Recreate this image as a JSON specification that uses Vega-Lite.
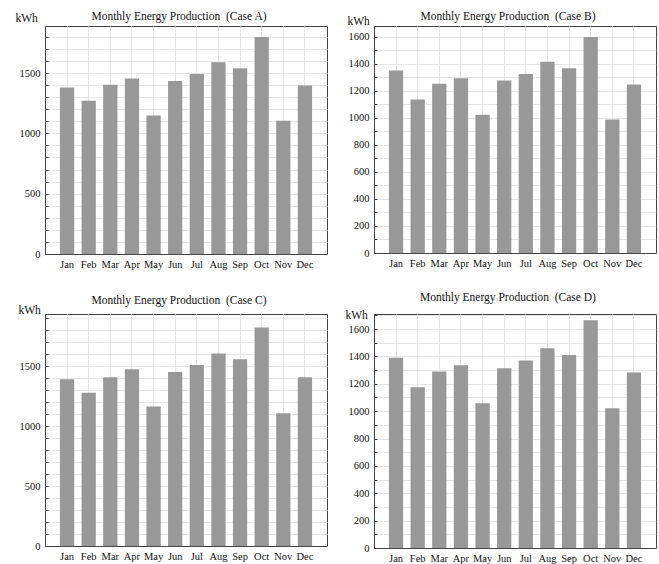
{
  "$schema": "https://vega.github.io/schema/vega-lite/v6.json",
  "background": "white",
  "padding": {"left": 14, "top": 10, "right": 2, "bottom": 2},
  "data": {"values": [
    {"case": "A", "month": "Jan", "kWh": 1380}, {"case": "A", "month": "Feb", "kWh": 1270}, {"case": "A", "month": "Mar", "kWh": 1402},
    {"case": "A", "month": "Apr", "kWh": 1455}, {"case": "A", "month": "May", "kWh": 1149}, {"case": "A", "month": "Jun", "kWh": 1435},
    {"case": "A", "month": "Jul", "kWh": 1493}, {"case": "A", "month": "Aug", "kWh": 1589}, {"case": "A", "month": "Sep", "kWh": 1540},
    {"case": "A", "month": "Oct", "kWh": 1798}, {"case": "A", "month": "Nov", "kWh": 1104}, {"case": "A", "month": "Dec", "kWh": 1397},
    {"case": "B", "month": "Jan", "kWh": 1351}, {"case": "B", "month": "Feb", "kWh": 1136}, {"case": "B", "month": "Mar", "kWh": 1252},
    {"case": "B", "month": "Apr", "kWh": 1294}, {"case": "B", "month": "May", "kWh": 1023}, {"case": "B", "month": "Jun", "kWh": 1277},
    {"case": "B", "month": "Jul", "kWh": 1324}, {"case": "B", "month": "Aug", "kWh": 1415}, {"case": "B", "month": "Sep", "kWh": 1368},
    {"case": "B", "month": "Oct", "kWh": 1598}, {"case": "B", "month": "Nov", "kWh": 988}, {"case": "B", "month": "Dec", "kWh": 1247},
    {"case": "C", "month": "Jan", "kWh": 1390}, {"case": "C", "month": "Feb", "kWh": 1279}, {"case": "C", "month": "Mar", "kWh": 1407},
    {"case": "C", "month": "Apr", "kWh": 1474}, {"case": "C", "month": "May", "kWh": 1164}, {"case": "C", "month": "Jun", "kWh": 1451},
    {"case": "C", "month": "Jul", "kWh": 1510}, {"case": "C", "month": "Aug", "kWh": 1605}, {"case": "C", "month": "Sep", "kWh": 1558},
    {"case": "C", "month": "Oct", "kWh": 1823}, {"case": "C", "month": "Nov", "kWh": 1108}, {"case": "C", "month": "Dec", "kWh": 1407},
    {"case": "D", "month": "Jan", "kWh": 1390}, {"case": "D", "month": "Feb", "kWh": 1175}, {"case": "D", "month": "Mar", "kWh": 1289},
    {"case": "D", "month": "Apr", "kWh": 1336}, {"case": "D", "month": "May", "kWh": 1058}, {"case": "D", "month": "Jun", "kWh": 1314},
    {"case": "D", "month": "Jul", "kWh": 1370}, {"case": "D", "month": "Aug", "kWh": 1460}, {"case": "D", "month": "Sep", "kWh": 1411},
    {"case": "D", "month": "Oct", "kWh": 1665}, {"case": "D", "month": "Nov", "kWh": 1021}, {"case": "D", "month": "Dec", "kWh": 1282}
  ]},
  "columns": 2,
  "spacing": {"column": 47, "row": 60},
  "bounds": "flush",
  "config": {
    "font": "Liberation Serif",
    "view": {"stroke": "#444444", "strokeWidth": 1},
    "title": {"font": "Liberation Serif", "fontSize": 11.5, "fontWeight": "normal", "color": "#111111", "dx": -7},
    "axis": {
      "labelFont": "Liberation Serif", "labelFontSize": 10.5, "labelColor": "#111111",
      "titleFont": "Liberation Serif", "titleFontSize": 11.5, "titleFontWeight": "normal", "titleColor": "#111111",
      "domainColor": "#444444", "tickColor": "#444444", "gridColor": "#e6e6e6", "gridWidth": 1
    },
    "bar": {"color": "#989898"}
  },
  "concat": [
    {
      "title": {"text": "Monthly Energy Production \u00a0(Case A)", "offset": -10.5},
      "width": 282, "height": 228,
      "transform": [{"filter": "datum.case == 'A'"}],
      "mark": "bar",
      "encoding": {
        "x": {"field": "month", "type": "ordinal", "sort": ["Jan","Feb","Mar","Apr","May","Jun","Jul","Aug","Sep","Oct","Nov","Dec"],
              "scale": {"paddingInner": 0.34, "paddingOuter": 0.69},
              "axis": {"title": null, "labelAngle": 0, "grid": true, "tickSize": -3, "labelPadding": 8}},
        "y": {"field": "kWh", "type": "quantitative", "scale": {"domain": [0, 1890], "nice": false},
              "axis": {"title": "kWh", "titleAngle": 0, "titleAlign": "left", "titleBaseline": "alphabetic", "titleX": -30, "titleY": -5,
                       "values": [0,100,200,300,400,500,600,700,800,900,1000,1100,1200,1300,1400,1500,1600,1700,1800],
                       "labelExpr": "datum.value % 500 == 0 ? datum.label : ''", "format": "d", "tickSize": -3, "labelPadding": 8}}
      }
    },
    {
      "title": {"text": "Monthly Energy Production \u00a0(Case B)", "offset": -7},
      "width": 282, "height": 227,
      "transform": [{"filter": "datum.case == 'B'"}],
      "mark": "bar",
      "encoding": {
        "x": {"field": "month", "type": "ordinal", "sort": ["Jan","Feb","Mar","Apr","May","Jun","Jul","Aug","Sep","Oct","Nov","Dec"],
              "scale": {"paddingInner": 0.34, "paddingOuter": 0.69},
              "axis": {"title": null, "labelAngle": 0, "grid": true, "tickSize": -3, "labelPadding": 8}},
        "y": {"field": "kWh", "type": "quantitative", "scale": {"domain": [0, 1680], "nice": false},
              "axis": {"title": "kWh", "titleAngle": 0, "titleAlign": "left", "titleBaseline": "alphabetic", "titleX": -27, "titleY": -2,
                       "values": [0,100,200,300,400,500,600,700,800,900,1000,1100,1200,1300,1400,1500,1600],
                       "labelExpr": "datum.value % 200 == 0 ? datum.label : ''", "format": "d", "tickSize": -3, "labelPadding": 8}}
      }
    },
    {
      "title": {"text": "Monthly Energy Production \u00a0(Case C)", "offset": -2},
      "width": 282, "height": 232,
      "transform": [{"filter": "datum.case == 'C'"}],
      "mark": "bar",
      "encoding": {
        "x": {"field": "month", "type": "ordinal", "sort": ["Jan","Feb","Mar","Apr","May","Jun","Jul","Aug","Sep","Oct","Nov","Dec"],
              "scale": {"paddingInner": 0.34, "paddingOuter": 0.69},
              "axis": {"title": null, "labelAngle": 0, "grid": true, "tickSize": -3, "labelPadding": 8}},
        "y": {"field": "kWh", "type": "quantitative", "scale": {"domain": [0, 1935], "nice": false},
              "axis": {"title": "kWh", "titleAngle": 0, "titleAlign": "left", "titleBaseline": "alphabetic", "titleX": -27, "titleY": -1,
                       "values": [0,100,200,300,400,500,600,700,800,900,1000,1100,1200,1300,1400,1500,1600,1700,1800,1900],
                       "labelExpr": "datum.value % 500 == 0 ? datum.label : ''", "format": "d", "tickSize": -3, "labelPadding": 8}}
      }
    },
    {
      "title": {"text": "Monthly Energy Production \u00a0(Case D)", "offset": 6},
      "width": 282, "height": 234,
      "transform": [{"filter": "datum.case == 'D'"}],
      "mark": "bar",
      "encoding": {
        "x": {"field": "month", "type": "ordinal", "sort": ["Jan","Feb","Mar","Apr","May","Jun","Jul","Aug","Sep","Oct","Nov","Dec"],
              "scale": {"paddingInner": 0.34, "paddingOuter": 0.69},
              "axis": {"title": null, "labelAngle": 0, "grid": true, "tickSize": -3, "labelPadding": 8}},
        "y": {"field": "kWh", "type": "quantitative", "scale": {"domain": [0, 1710], "nice": false},
              "axis": {"title": "kWh", "titleAngle": 0, "titleAlign": "left", "titleBaseline": "alphabetic", "titleX": -29, "titleY": 4,
                       "values": [0,100,200,300,400,500,600,700,800,900,1000,1100,1200,1300,1400,1500,1600,1700],
                       "labelExpr": "datum.value % 200 == 0 ? datum.label : ''", "format": "d", "tickSize": -3, "labelPadding": 8}}
      }
    }
  ]
}
